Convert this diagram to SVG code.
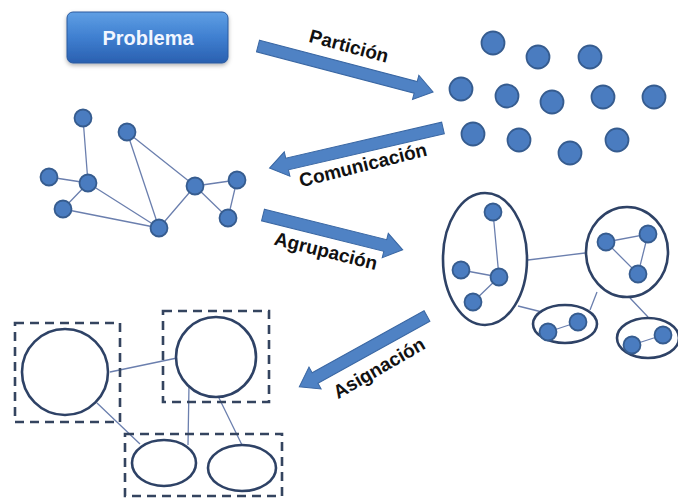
<svg xmlns="http://www.w3.org/2000/svg" width="678" height="499" viewBox="0 0 678 499">
  <defs>
    <linearGradient id="btnGrad" x1="0" y1="0" x2="0" y2="1">
      <stop offset="0" stop-color="#5f9fe4"/>
      <stop offset="0.5" stop-color="#3f7fd0"/>
      <stop offset="1" stop-color="#2a60b0"/>
    </linearGradient>
    <filter id="shadow" x="-10%" y="-10%" width="130%" height="140%">
      <feDropShadow dx="0" dy="2" stdDeviation="2" flood-color="#000" flood-opacity="0.3"/>
    </filter>
  </defs>
  <style>
    .arrow { fill: #4f82c4; stroke: #3a67a3; stroke-width: 1; }
    .lbl { font-family: "Liberation Sans", Arial, sans-serif; font-weight: bold; font-size: 19px; fill: #111; text-anchor: middle; dominant-baseline: central; }
    .dot { fill: #4a7cc0; stroke: #365c8f; stroke-width: 1.8; }
    .edge { stroke: #6b7fae; stroke-width: 1.3; fill: none; }
    .group { fill: none; stroke: #2e4266; stroke-width: 2.6; }
    .box { fill: none; stroke: #34445f; stroke-width: 2.6; stroke-dasharray: 9 6; }
  </style>
  <rect width="678" height="499" fill="#ffffff"/>

  <!-- start node -->
  <g id="problema">
    <rect x="67" y="12" width="161" height="51" rx="6" fill="url(#btnGrad)" stroke="#2b5a9e" stroke-width="1" filter="url(#shadow)"/>
    <text x="148" y="38" font-family="Liberation Sans, Arial, sans-serif" font-weight="bold" font-size="20" fill="#f2f6ff" text-anchor="middle" dominant-baseline="central">Problema</text>
  </g>

  <!-- step arrows with their labels -->
  <g id="connectors">
    <polygon class="arrow" transform="translate(258,46) rotate(14.7)" points="0,-6 163,-6 163,-12.5 181,0 163,12.5 163,6 0,6"/>
    <text class="lbl" transform="translate(349,46) rotate(15)">Partición</text>

    <polygon class="arrow" transform="translate(443,128) rotate(167)" points="0,-6 160,-6 160,-12.5 178,0 160,12.5 160,6 0,6"/>
    <text class="lbl" transform="translate(363,165) rotate(-14)">Comunicación</text>

    <polygon class="arrow" transform="translate(263,215) rotate(14)" points="0,-6 126,-6 126,-12.5 144,0 126,12.5 126,6 0,6"/>
    <text class="lbl" transform="translate(326,251) rotate(14)">Agrupación</text>

    <polygon class="arrow" transform="translate(427,316) rotate(151)" points="0,-6 128,-6 128,-12.5 146,0 128,12.5 128,6 0,6"/>
    <text class="lbl" transform="translate(379,368) rotate(-30)">Asignación</text>
  </g>

  <!-- partitioned tasks -->
  <g id="particion">
    <circle class="dot" cx="493" cy="43" r="11.5"/>
    <circle class="dot" cx="538" cy="57" r="11.5"/>
    <circle class="dot" cx="590" cy="57" r="11.5"/>
    <circle class="dot" cx="461" cy="89" r="11.5"/>
    <circle class="dot" cx="507" cy="96" r="11.5"/>
    <circle class="dot" cx="552" cy="102" r="11.5"/>
    <circle class="dot" cx="603" cy="97" r="11.5"/>
    <circle class="dot" cx="654" cy="97" r="11.5"/>
    <circle class="dot" cx="473" cy="134" r="11.5"/>
    <circle class="dot" cx="519" cy="140" r="11.5"/>
    <circle class="dot" cx="570" cy="153" r="11.5"/>
    <circle class="dot" cx="617" cy="140" r="11.5"/>
  </g>

  <!-- communication graph -->
  <g id="comunicacion">
    <path class="edge" d="M83,118 L88,183 M49,177 L88,183 M88,183 L63,209 M88,183 L159,228 M63,209 L159,228 M127,132 L159,228 M127,132 L195,186 M159,228 L195,186 M195,186 L237,180 M195,186 L228,218 M237,180 L228,218"/>
    <circle class="dot" cx="83" cy="118" r="8.5"/>
    <circle class="dot" cx="127" cy="132" r="8.5"/>
    <circle class="dot" cx="49" cy="177" r="8.5"/>
    <circle class="dot" cx="88" cy="183" r="8.5"/>
    <circle class="dot" cx="63" cy="209" r="8.5"/>
    <circle class="dot" cx="159" cy="228" r="8.5"/>
    <circle class="dot" cx="195" cy="186" r="8.5"/>
    <circle class="dot" cx="237" cy="180" r="8.5"/>
    <circle class="dot" cx="228" cy="218" r="8.5"/>
  </g>

  <!-- agglomerated groups -->
  <g id="agrupacion">
    <path class="edge" d="M528,260 L585,253 M518,306 L542,312 M597,292 L590,310 M630,298 L648,317"/>
    <ellipse class="group" cx="485" cy="259" rx="42" ry="66"/>
    <path class="edge" d="M493,212 L499,277 M461,270 L499,277 M499,277 L473,302"/>
    <circle class="dot" cx="493" cy="212" r="8.5"/>
    <circle class="dot" cx="461" cy="270" r="8.5"/>
    <circle class="dot" cx="499" cy="277" r="8.5"/>
    <circle class="dot" cx="473" cy="302" r="8.5"/>

    <ellipse class="group" cx="627" cy="252" rx="41" ry="45"/>
    <path class="edge" d="M606,242 L648,234 L638,274 Z"/>
    <circle class="dot" cx="606" cy="242" r="8.5"/>
    <circle class="dot" cx="648" cy="234" r="8.5"/>
    <circle class="dot" cx="638" cy="274" r="8.5"/>

    <ellipse class="group" cx="565" cy="324" rx="32" ry="19"/>
    <path class="edge" d="M548,332 L578,322"/>
    <circle class="dot" cx="548" cy="332" r="8.5"/>
    <circle class="dot" cx="578" cy="322" r="8.5"/>

    <ellipse class="group" cx="648" cy="338" rx="31" ry="20"/>
    <path class="edge" d="M632,345 L663,335"/>
    <circle class="dot" cx="632" cy="345" r="8.5"/>
    <circle class="dot" cx="663" cy="335" r="8.5"/>
  </g>

  <!-- processor mapping -->
  <g id="asignacion">
    <path class="edge" d="M110,372 L177,358 M97,403 L140,444 M189,385 L188,445 M218,396 L242,445"/>
    <rect class="box" x="15" y="323" width="105" height="99"/>
    <circle class="group" cx="65" cy="372" r="43"/>
    <rect class="box" x="163" y="311" width="106" height="91"/>
    <circle class="group" cx="216" cy="357" r="40"/>
    <rect class="box" x="125" y="434" width="157" height="62"/>
    <ellipse class="group" cx="164" cy="463" rx="32" ry="23"/>
    <ellipse class="group" cx="242" cy="468" rx="34" ry="23"/>
  </g>
</svg>
